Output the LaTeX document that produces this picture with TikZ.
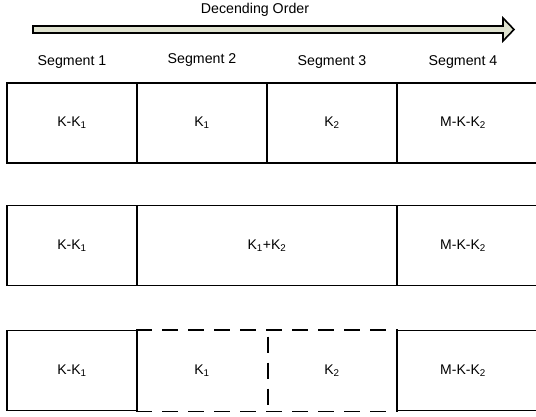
\documentclass[tikz,border=0pt]{standalone}
\usepackage{fontspec}
\setmainfont{Liberation Sans}
\begin{document}
\begin{tikzpicture}[x=1pt,y=-1pt,
  cell/.style={draw=black, line width=1.8pt, minimum width=130pt, minimum height=80pt,
               inner sep=0pt, font=\fontsize{14}{16}\selectfont},
  opencell/.style={cell, draw=none},
  seglabel/.style={font=\fontsize{14.2}{16}\selectfont, inner sep=0pt},
  dashline/.style={line width=1.8pt, dash pattern=on 16pt off 10pt}
]
\clip (0,0) rectangle (536,417);
\fill[white] (0,0) rectangle (536,417);

% direction arrow
\definecolor{arrowfill}{HTML}{DFE2CF}
\draw[fill=arrowfill, line width=1.6pt, line join=miter]
  (33,26) -- (503,26) -- (503,18) -- (514,29.5) -- (503,41) -- (503,33) -- (33,33) -- cycle;
\node[seglabel] (title) at (255,10) {Decending Order};

% column headings
\node[seglabel] (s1) at (72,62) {Segment 1};
\node[seglabel] (s2) at (202,60) {Segment 2};
\node[seglabel] (s3) at (332,62) {Segment 3};
\node[seglabel] (s4) at (463,62) {Segment 4};

% first row: four segments
\node[cell] (a1) at (72,123) {K-K\textsubscript{1}};
\node[cell] (a2) at (202,123) {K\textsubscript{1}};
\node[cell] (a3) at (332,123) {K\textsubscript{2}};
\node[cell, minimum width=150pt] (a4) at (472,123) {};
\node[cell, draw=none] at (463,123) {M-K-K\textsubscript{2}};

% second row: middle segments merged
\node[cell] (b1) at (72,245.5) {K-K\textsubscript{1}};
\node[cell, minimum width=260pt] (b2) at (267,245.5) {K\textsubscript{1}+K\textsubscript{2}};
\node[cell, minimum width=150pt] (b4) at (472,245.5) {};
\node[cell, draw=none] at (463,245.5) {M-K-K\textsubscript{2}};

% third row: middle segments split by dashed outline
\node[cell] (c1) at (72,370.5) {K-K\textsubscript{1}};
\node[opencell] (c2) at (202,370.5) {K\textsubscript{1}};
\node[opencell] (c3) at (332,370.5) {K\textsubscript{2}};
\node[cell, minimum width=150pt] (c4) at (472,370.5) {};
\node[cell, draw=none] at (463,370.5) {M-K-K\textsubscript{2}};
\draw[dashline] (c2.north west) -- (c3.north east);
\draw[dashline] (c2.south west) -- (c3.south east);
\draw[dashline, dash phase=-7pt] (c2.north east) -- (c2.south east);
\end{tikzpicture}
\end{document}
